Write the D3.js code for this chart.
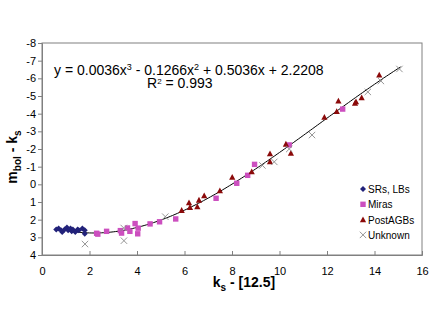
<!DOCTYPE html>
<html>
<head>
<meta charset="utf-8">
<script src="https://cdn.jsdelivr.net/npm/d3@7"></script>
<style>
  body { margin: 0; background: #fff; }
  text { font-family: Arial, "Liberation Sans", sans-serif; }
</style>
</head>
<body>
<svg id="chart" width="436" height="327"></svg>
<script>
// data
var srK   = [0.6, 0.7, 0.8, 0.85, 0.95, 1.05, 1.1, 1.2, 1.25, 1.3, 1.4, 1.5, 1.55, 1.7, 1.8, 1.8];
var srV   = [2.55, 2.5, 2.6, 2.7, 2.55, 2.45, 2.6, 2.5, 2.65, 2.55, 2.7, 2.55, 2.6, 2.5, 2.8, 2.6];

var miraK = [2.3, 2.35, 2.72, 3.3, 3.35, 3.6, 3.7, 3.92, 4.03, 4.05, 4.55, 4.95, 5.63, 7.33, 8.2, 8.66, 8.95, 10.41, 12.66];
var miraV = [2.77, 2.82, 2.66, 2.62, 2.76, 2.47, 2.66, 2.22, 2.8, 2.48, 2.24, 2.12, 1.96, 0.79, -0.06, -0.51, -1.13, -2.23, -4.26];

var agbK  = [5.88, 6.19, 6.23, 6.54, 6.61, 6.83, 7.49, 8.01, 8.83, 9.6, 9.6, 10.27, 10.48, 11.89, 12.41, 12.48, 13.18, 13.22, 13.46, 14.2];
var agbV  = [1.47, 1.04, 1.3, 1.26, 0.89, 0.64, 0.36, -0.4, -0.72, -1.74, -1.28, -2.28, -1.76, -3.8, -4.13, -4.72, -4.59, -4.68, -4.9, -6.19];

var unkK  = [1.81, 3.45, 3.44, 5.19, 9.28, 9.78, 10.41, 11.37, 13.72, 14.27, 15.05];
var unkV  = [3.38, 3.19, 2.47, 1.83, -1.07, -1.27, -2.0, -2.79, -5.23, -5.85, -6.53];

// trendline coefficients shown on the chart (x^3, x^2, x, 1)
var trendCoef = [0.0036, -0.1266, 0.5036, 2.2208];
var trendRange = [0.6, 15.1];

var xTicks = [0, 2, 4, 6, 8, 10, 12, 14, 16];
var yTicks = [-8, -7, -6, -5, -4, -3, -2, -1, 0, 1, 2, 3, 4];
var legendNames = ["SRs, LBs", "Miras", "PostAGBs", "Unknown"];

(function() {
  var svg = d3.select("#chart");
  var plotLeft = 42, plotRight = 422, plotTop = 43, plotBottom = 255;

  var x = d3.scaleLinear().domain([0, 16]).range([plotLeft, plotRight]);
  var y = d3.scaleLinear().domain([-8, 4]).range([plotTop, plotBottom]);

  // plot frame
  svg.append("rect")
    .attr("x", plotLeft).attr("y", plotTop)
    .attr("width", plotRight - plotLeft).attr("height", plotBottom - plotTop)
    .attr("fill", "none").attr("stroke", "#808080").attr("stroke-width", 1);

  // axes (plain hyphen minus like the original)
  var fmt = function(d) { return String(d); };
  var yAxis = svg.append("g")
    .attr("transform", "translate(" + plotLeft + ",0)")
    .call(d3.axisLeft(y).tickValues(yTicks).tickSize(4).tickFormat(fmt));
  var xAxis = svg.append("g")
    .attr("transform", "translate(0," + plotBottom + ")")
    .call(d3.axisBottom(x).tickValues(xTicks).tickSize(-4).tickFormat(fmt));

  [xAxis, yAxis].forEach(function(a) {
    a.select(".domain").attr("stroke", "#808080");
    a.selectAll(".tick line").attr("stroke", "#808080");
    a.selectAll(".tick text").attr("fill", "#000").style("font-size", "11px")
      .style("font-family", "Arial, 'Liberation Sans', sans-serif");
  });
  xAxis.selectAll(".tick text").attr("y", 12);
  yAxis.selectAll(".tick text").attr("x", -6);

  // trendline
  function trend(k) {
    return trendCoef[0] * k * k * k + trendCoef[1] * k * k + trendCoef[2] * k + trendCoef[3];
  }
  var trendK = d3.range(trendRange[0], trendRange[1] + 0.001, 0.1);
  svg.append("path")
    .datum(trendK)
    .attr("fill", "none").attr("stroke", "#000").attr("stroke-width", 1)
    .attr("d", d3.line().x(function(d) { return x(d); }).y(function(d) { return y(trend(d)); }));

  // markers
  var g = svg.append("g");
  function diamond(sel, cx, cy) {
    sel.append("path")
      .attr("d", "M" + cx + "," + (cy - 3) + "L" + (cx + 3) + "," + cy + "L" + cx + "," + (cy + 3) + "L" + (cx - 3) + "," + cy + "Z")
      .attr("fill", "#22227a");
  }
  function square(sel, cx, cy) {
    sel.append("rect").attr("x", cx - 2.7).attr("y", cy - 2.7).attr("width", 5.4).attr("height", 5.4)
      .attr("fill", "#cc4fbf");
  }
  function triangle(sel, cx, cy) {
    sel.append("path")
      .attr("d", "M" + cx + "," + (cy - 3.2) + "L" + (cx + 3.1) + "," + (cy + 2.6) + "L" + (cx - 3.1) + "," + (cy + 2.6) + "Z")
      .attr("fill", "#8b0a0a");
  }
  function cross(sel, cx, cy) {
    sel.append("path")
      .attr("d", "M" + (cx - 3.2) + "," + (cy - 3.2) + "L" + (cx + 3.2) + "," + (cy + 3.2) +
                 "M" + (cx - 3.2) + "," + (cy + 3.2) + "L" + (cx + 3.2) + "," + (cy - 3.2))
      .attr("stroke", "#8a8a8a").attr("stroke-width", 0.9).attr("fill", "none");
  }

  srK.forEach(function(k, i) { diamond(g, x(k), y(srV[i])); });
  miraK.forEach(function(k, i) { square(g, x(k), y(miraV[i])); });
  agbK.forEach(function(k, i) { triangle(g, x(k), y(agbV[i])); });
  unkK.forEach(function(k, i) { cross(g, x(k), y(unkV[i])); });

  // equation text
  svg.append("text").attr("x", 54).attr("y", 75).style("font-size", "14px")
    .html("y = 0.0036x<tspan dy='-5' font-size='9'>3</tspan><tspan dy='5'> - 0.1266x</tspan><tspan dy='-5' font-size='9'>2</tspan><tspan dy='5'> + 0.5036x + 2.2208</tspan>");
  svg.append("text").attr("x", 147).attr("y", 88).style("font-size", "14px")
    .html("R<tspan dy='-4' font-size='8'>2</tspan><tspan dy='4'> = 0.993</tspan>");

  // legend
  var markers = [diamond, square, triangle, cross];
  var lg = svg.append("g");
  legendNames.forEach(function(name, i) {
    var ly = 189 + i * 15.3;
    markers[i](lg, 363, ly);
    lg.append("text").attr("x", 368).attr("y", ly + 4).style("font-size", "10px").text(name);
  });

  // axis titles
  svg.append("text").attr("x", 244).attr("y", 287).attr("text-anchor", "middle")
    .style("font-size", "14px").style("font-weight", "bold")
    .html("k<tspan dy='4' font-size='10'>s</tspan><tspan dy='-4'> - [12.5]</tspan>");
  svg.append("text").attr("transform", "translate(17,157) rotate(-90)").attr("text-anchor", "middle")
    .style("font-size", "14px").style("font-weight", "bold")
    .html("m<tspan dy='4' font-size='10'>bol</tspan><tspan dy='-4'> - k</tspan><tspan dy='4' font-size='10'>s</tspan>");
})();
</script>
</body>
</html>
